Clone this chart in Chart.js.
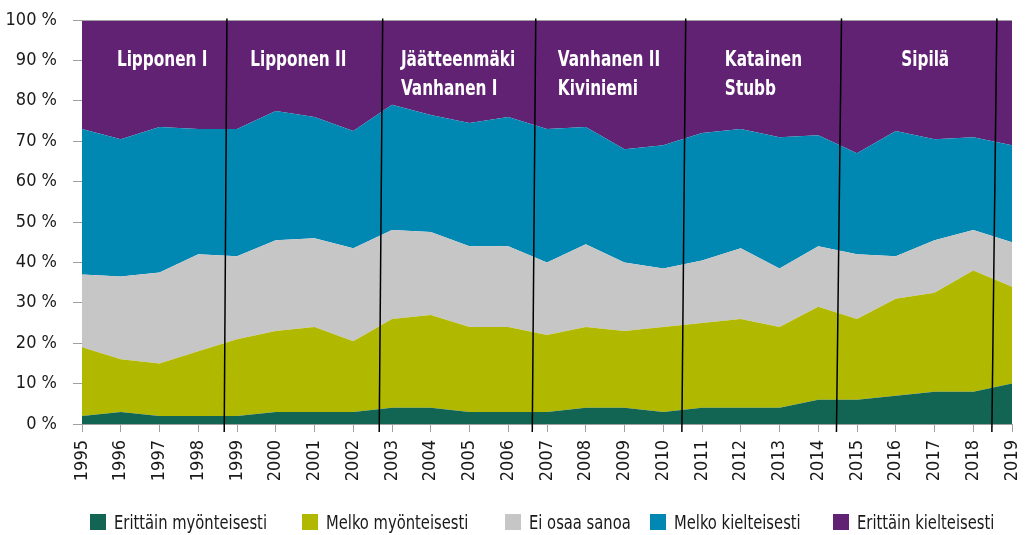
<!DOCTYPE html>
<html>
<head>
<meta charset="utf-8">
<script src="https://cdn.jsdelivr.net/npm/chart.js@4"></script>
<style>
  body { margin: 0; background: #fff; }
  #wrap { position: relative; width: 1025px; height: 535px; }
  #legend { position: absolute; left: 0; top: 512px; width: 1025px; height: 20px;
            font: 20px 'Liberation Sans Narrow', 'DejaVu Sans Condensed', sans-serif; color: #1a1a1a; }
  .item { position: absolute; top: 0; display: flex; align-items: center; white-space: nowrap; height: 20px; }
  .box { width: 16px; height: 16px; margin-right: 8px; }
  .txt { display: inline-block; transform: scaleX(0.82); transform-origin: left center; }
</style>
</head>
<body>
<div id="wrap">
  <canvas id="chart" width="1025" height="535"></canvas>
  <div id="legend"></div>
</div>
<script>
const years = ["1995","1996","1997","1998","1999","2000","2001","2002","2003","2004","2005","2006",
  "2007","2008","2009","2010","2011","2012","2013","2014","2015","2016","2017","2018","2019"];

const seriesNames = ["Erittäin myönteisesti", "Melko myönteisesti", "Ei osaa sanoa", "Melko kielteisesti", "Erittäin kielteisesti"];

const erittainMyont = [2, 3, 2, 2, 2, 3, 3, 3, 4, 4, 3, 3, 3, 4, 4, 3, 4, 4, 4, 6, 6, 7, 8, 8, 10];
const melkoMyont = [17, 13, 13, 16, 19, 20, 21, 17.5, 22, 23, 21, 21, 19, 20, 19, 21, 21, 22, 20, 23, 20, 24, 24.5, 30, 24];
const eiOsaa = [18, 20.5, 22.5, 24, 20.5, 22.5, 22, 23, 22, 20.5, 20, 20, 18, 20.5, 17, 14.5, 15.5, 17.5, 14.5, 15, 16, 10.5, 13, 10, 11];
const melkoKielt = [36, 34, 36, 31, 31.5, 32, 30, 29, 31, 29, 30.5, 32, 33, 29, 28, 30.5, 31.5, 29.5, 32.5, 27.5, 25, 31, 25, 23, 24];
const erittainKielt = [27, 29.5, 26.5, 27, 27, 22.5, 24, 27.5, 21, 23.5, 25.5, 24, 27, 26.5, 32, 31, 28, 27, 29, 28.5, 33, 27.5, 29.5, 29, 31];

const yTickLabels = ["0 %","10 %","20 %","30 %","40 %","50 %","60 %","70 %","80 %","90 %","100 %"];

// hallitukset: nimet ja vaihtokohdat (vuosi-indeksinä)
const govNames = [["Lipponen I"], ["Lipponen II"], ["Jäätteenmäki", "Vanhanen I"],
  ["Vanhanen II", "Kiviniemi"], ["Katainen", "Stubb"], ["Sipilä"]];
const govBreaks = [[3.74, 3.67], [7.76, 7.67], [11.71, 11.62], [15.58, 15.48], [19.60, 19.47], [23.61, 23.48]];

const colors = ["#136553", "#b1b800", "#c6c6c6", "#0088b3", "#612273"];
const labelX = [0.90, 4.34, 8.23, 12.28, 16.59, 21.14];
const FONT = "'Liberation Sans Narrow', 'DejaVu Sans Condensed', sans-serif";

const govPlugin = {
  id: "gov",
  afterDatasetsDraw(chart) {
    const { ctx, scales: { x, y }, chartArea } = chart;
    ctx.save();
    // top border
    ctx.strokeStyle = "#a0a0a0";
    ctx.lineWidth = 1;
    ctx.beginPath();
    ctx.moveTo(chartArea.left, chartArea.top + 0.5);
    ctx.lineTo(chartArea.right, chartArea.top + 0.5);
    ctx.stroke();

    ctx.strokeStyle = "#000";
    ctx.lineWidth = 1.5;
    govBreaks.forEach(b => {
      ctx.beginPath();
      ctx.moveTo(x.getPixelForValue(b[0]), y.getPixelForValue(100.4));
      ctx.lineTo(x.getPixelForValue(b[1]), y.getPixelForValue(-2));
      ctx.stroke();
    });

    ctx.fillStyle = "#fff";
    ctx.font = "bold 21px " + FONT;
    ctx.textAlign = "left";
    ctx.textBaseline = "middle";
    govNames.forEach((lines, i) => {
      lines.forEach((t, j) => {
        ctx.save();
        ctx.translate(x.getPixelForValue(labelX[i]), y.getPixelForValue(j === 0 ? 89.9 : 82.9));
        ctx.scale(0.81, 1);
        ctx.fillText(t, 0, 0);
        ctx.restore();
      });
    });
    ctx.restore();
  }
};

const values = [erittainMyont, melkoMyont, eiOsaa, melkoKielt, erittainKielt];

new Chart(document.getElementById("chart"), {
  type: "line",
  data: {
    labels: years,
    datasets: values.map((v, i) => ({
      label: seriesNames[i],
      data: v,
      backgroundColor: colors[i],
      borderColor: colors[i],
      borderWidth: 0,
      pointRadius: 0,
      tension: 0,
      fill: i === 0 ? "origin" : "-1"
    }))
  },
  options: {
    responsive: false,
    animation: false,
    layout: { padding: { top: 20, right: 13, left: 0, bottom: 41 } },
    plugins: { legend: { display: false }, tooltip: { enabled: false } },
    scales: {
      x: {
        offset: false,
        grid: { drawOnChartArea: false, tickLength: 8, color: "#a0a0a0" },
        border: { color: "#a0a0a0" },
        ticks: { autoSkip: false, minRotation: 90, maxRotation: 90, padding: 8,
                 color: "#1a1a1a", font: { family: FONT, size: 18 } },
        afterFit(s) { s.height = 70; s.paddingLeft = 0; s.paddingRight = 0; }
      },
      y: {
        stacked: true,
        min: 0, max: 100,
        grid: { drawOnChartArea: false, tickLength: 9, color: "#a0a0a0" },
        border: { color: "#a0a0a0" },
        ticks: { stepSize: 10, padding: 16, color: "#1a1a1a", font: { family: FONT, size: 18 },
                 callback: (v, i) => yTickLabels[i] },
        afterFit(s) { s.width = 82; s.paddingTop = 0; s.paddingBottom = 0; }
      }
    }
  },
  plugins: [govPlugin]
});

// legend
const legendLeft = [90, 302, 505, 650, 833];
const legend = document.getElementById("legend");
seriesNames.forEach((name, i) => {
  const item = document.createElement("div");
  item.className = "item";
  item.style.left = legendLeft[i] + "px";
  item.innerHTML = `<span class="box" style="background:${colors[i]}"></span><span class="txt">${name}</span>`;
  legend.appendChild(item);
});
</script>
</body>
</html>
